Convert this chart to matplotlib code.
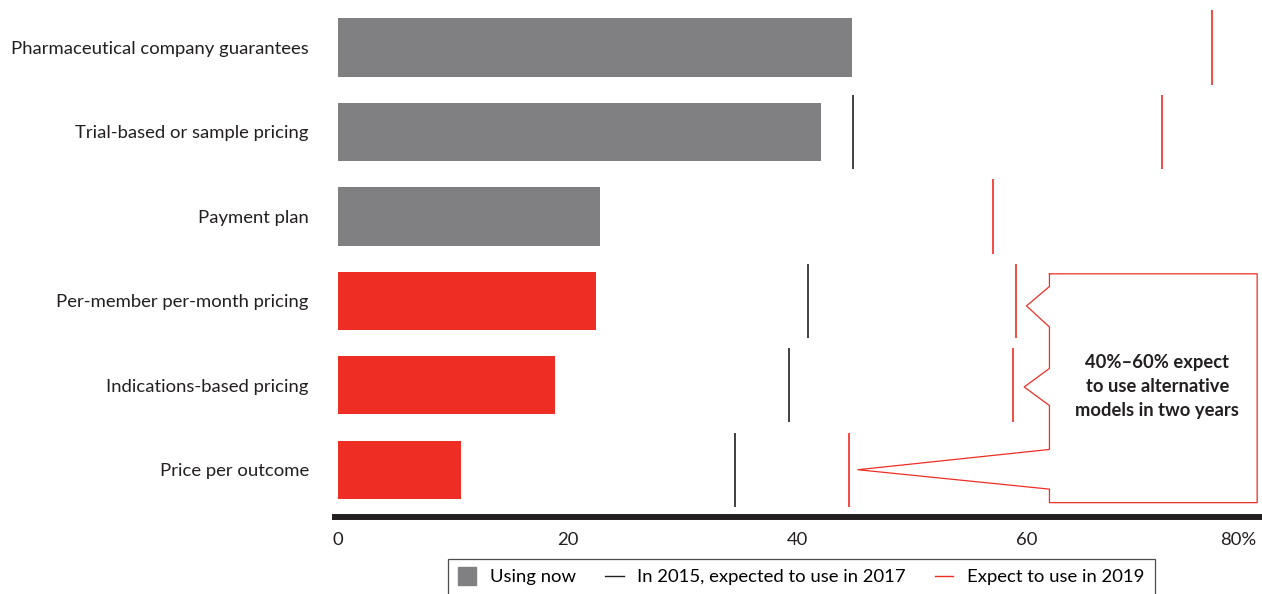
import matplotlib
matplotlib.use("Agg")
import matplotlib.pyplot as plt
from matplotlib.lines import Line2D

plt.rcParams['font.family'] = ['Lato', 'DejaVu Sans']

# Data
categories = ["Pharmaceutical company guarantees", "Trial-based or sample pricing",
              "Payment plan", "Per-member per-month pricing",
              "Indications-based pricing", "Price per outcome"]
using_now = [44.8, 42.1, 22.8, 22.5, 18.9, 10.7]
expected_2017 = [None, 44.9, None, 41.0, 39.3, 34.6]
expected_2019 = [76.2, 71.8, 57.1, 59.1, 58.8, 44.5]
is_alternative = [False, False, False, True, True, True]
tick_values = [0, 20, 40, 60, 80]
tick_labels = ["0", "20", "40", "60", "80%"]
callout_text = "40%\u201360% expect\nto use alternative\nmodels in two years"

GRAY = "#808083"
RED = "#EE2E24"

W, H = 1262, 594
fig = plt.figure(figsize=(W / 100, H / 100), dpi=100)
ax = fig.add_axes([338 / W, 1 - 517 / H, (1256 - 338) / W, 517 / H])

ypos = list(range(len(categories)))
colors = [RED if alt else GRAY for alt in is_alternative]

# bars for "using now"
ax.barh(ypos, using_now, height=0.69, color=colors, zorder=2)

# vertical tick lines for expectations
for y, v in zip(ypos, expected_2017):
    if v is not None:
        ax.vlines(v, y - 0.44, y + 0.44, color="#231F20", lw=1.2, zorder=3)
for y, v in zip(ypos, expected_2019):
    if v is not None:
        ax.vlines(v, y - 0.44, y + 0.44, color=RED, lw=1.2, zorder=3)

# callout shape pointing at the 2019 lines of the alternative models
cx = [62.0, 80.1, 80.1, 62.0, 62.0, 45.3, 62.0, 62.0, 59.8, 62.0, 62.0, 60.0, 62.0, 62.0]
cy = [2.68, 2.68, 5.39, 5.39, 5.23, 5.0, 4.76, 4.24, 4.02, 3.80, 3.31, 3.06, 2.83, 2.68]
ax.plot(cx, cy, color=RED, lw=0.9, zorder=3, clip_on=False)
ax.text(71.4, 4.01, callout_text, ha="center", va="center", fontsize=13.2,
        fontweight="bold", color="#231F20", linespacing=1.5)

ax.set_xlim(0, 80)
ax.set_ylim(5.56, -0.563)
ax.set_yticks(ypos)
ax.set_yticklabels(categories, fontsize=13.3, color="#231F20")
ax.set_xticks(tick_values)
ax.set_xticklabels(tick_labels, fontsize=13.3, color="#231F20")
ax.get_xticklabels()[-1].set_horizontalalignment("right")
ax.tick_params(axis="both", length=0)
ax.tick_params(axis="y", pad=21)
ax.tick_params(axis="x", pad=11)
for s in ax.spines.values():
    s.set_visible(False)

# thick baseline
fig.add_artist(Line2D([335 / W, 1.0], [1 - 517 / H] * 2, color="#231F20", lw=4.3,
                      transform=fig.transFigure))

handles = [
    Line2D([], [], marker="s", ls="none", color=GRAY, markersize=13),
    Line2D([], [], color="#231F20", lw=1.0),
    Line2D([], [], color=RED, lw=1.0),
]
labels = ["Using now", "In 2015, expected to use in 2017", "Expect to use in 2019"]
leg = fig.legend(handles, labels, loc="upper left", bbox_to_anchor=(448 / W, 1 - 559 / H),
                 ncol=3, fontsize=13.3, frameon=True, fancybox=False, handlelength=1.0,
                 handletextpad=0.75, columnspacing=1.55, borderaxespad=0, borderpad=0.55)
leg.get_frame().set_edgecolor("#231F20")
leg.get_frame().set_linewidth(0.9)

fig.savefig("out.png", dpi=100)
